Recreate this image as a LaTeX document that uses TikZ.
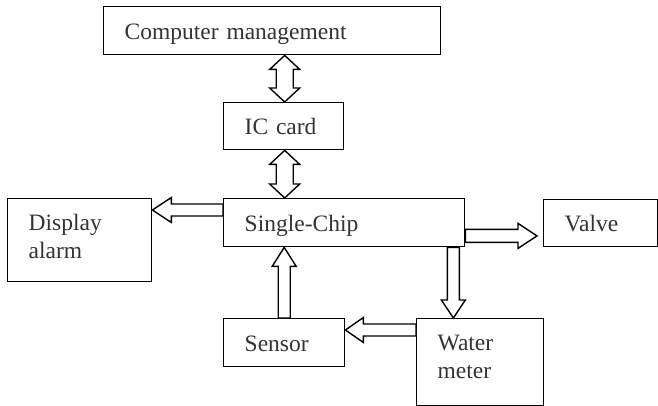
\documentclass[tikz,border=0pt]{standalone}
\usepackage{fontspec}
\setmainfont{Liberation Serif}
\usetikzlibrary{calc}
\definecolor{txt}{HTML}{333333}
\tikzset{
  box/.style={draw=black, line width=1.4pt, rectangle, anchor=north west,
    inner xsep=21pt, inner ysep=0pt, align=left, text=txt,
    font=\fontsize{23.5}{28}\selectfont},
  oneline/.style={text height=17pt, text depth=0pt},
  blk/.style={draw=black, line width=1.4pt, fill=white, line join=miter}
}
% horizontal single hollow arrow: tail, tip, shaft half-width, head half-width, head length
\newcommand\hblk[5]{%
  \draw[blk] let \p1=(#1), \p2=(#2), \n1={sign(\x2-\x1)} in
   (\x1,\y1+#3) -- (\x2-\n1*#5,\y1+#3) -- (\x2-\n1*#5,\y1+#4) -- (\x2,\y1)
   -- (\x2-\n1*#5,\y1-#4) -- (\x2-\n1*#5,\y1-#3) -- (\x1,\y1-#3) -- cycle;}
% vertical single hollow arrow
\newcommand\vblk[5]{%
  \draw[blk] let \p1=(#1), \p2=(#2), \n1={sign(\y2-\y1)} in
   (\x1+#3,\y1) -- (\x1+#3,\y2-\n1*#5) -- (\x1+#4,\y2-\n1*#5) -- (\x1,\y2)
   -- (\x1-#4,\y2-\n1*#5) -- (\x1-#3,\y2-\n1*#5) -- (\x1-#3,\y1) -- cycle;}
% vertical double hollow arrow: top, bottom
\newcommand\vdbl[5]{%
  \draw[blk] let \p1=(#1), \p2=(#2) in
   (\x1,\y1) -- (\x1+#4,\y1-#5) -- (\x1+#3,\y1-#5) -- (\x1+#3,\y2+#5)
   -- (\x1+#4,\y2+#5) -- (\x1,\y2) -- (\x1-#4,\y2+#5) -- (\x1-#3,\y2+#5)
   -- (\x1-#3,\y1-#5) -- (\x1-#4,\y1-#5) -- cycle;}
\begin{document}
\begin{tikzpicture}[x=1pt,y=-1pt]
\useasboundingbox (0,0) rectangle (658,406);
\node[box, oneline, minimum width=337pt, minimum height=48pt, text width=295pt] (cm) at (103,6) {Computer management};
\node[box, oneline, minimum width=120pt, minimum height=47pt, text width=78pt] (ic) at (223,102) {IC card};
\node[box, oneline, minimum width=241pt, minimum height=48pt, text width=199pt] (chip) at (223,198) {Single-Chip};
\node[box, minimum width=144pt, minimum height=83pt, text width=102pt] (disp) at (7,198) {Display\\alarm\rule[-7pt]{0pt}{0pt}};
\node[box, oneline, minimum width=114pt, minimum height=47pt, text width=72pt] (valve) at (543,199) {Valve};
\node[box, oneline, minimum width=121pt, minimum height=48pt, text width=79pt] (sensor) at (223,318) {Sensor};
\node[box, minimum width=127pt, minimum height=87pt, text width=85pt] (water) at (416,318) {Water\\meter\rule[-11pt]{0pt}{0pt}};

% connector end points
\coordinate (d1t) at ($(ic.north)+(1pt,0)$);
\coordinate (d1b) at (d1t |- cm.south);
\coordinate (d2t) at ($(ic.south)+(1pt,0)$);
\coordinate (d2b) at (d2t |- chip.north);
\coordinate (a3t) at ($(chip.north west)+(0,-12pt)$);
\coordinate (a3p) at (disp.east |- a3t);
\coordinate (a4t) at ($(chip.south east)+(0,11.5pt)$);
\coordinate (a4p) at ($(valve.west |- a4t)+(-6pt,0)$);
\coordinate (a5t) at ($(chip.south east)+(-12pt,0)$);
\coordinate (a5p) at (a5t |- water.north);
\coordinate (a6t) at ($(water.north west)+(0,-12pt)$);
\coordinate (a6p) at (sensor.east |- a6t);
\coordinate (a7t) at (sensor.north);
\coordinate (a7p) at (a7t |- chip.south);

\vdbl{d1b}{d1t}{8.5pt}{15pt}{14pt}
\vdbl{d2t}{d2b}{8.5pt}{15pt}{14pt}
\hblk{a3t}{a3p}{6pt}{12.5pt}{19pt}
\hblk{a4t}{a4p}{6.5pt}{12.5pt}{19pt}
\vblk{a5t}{a5p}{6pt}{12pt}{18pt}
\hblk{a6t}{a6p}{6pt}{12.5pt}{18pt}
\vblk{a7t}{a7p}{6pt}{12pt}{19pt}
\end{tikzpicture}
\end{document}
